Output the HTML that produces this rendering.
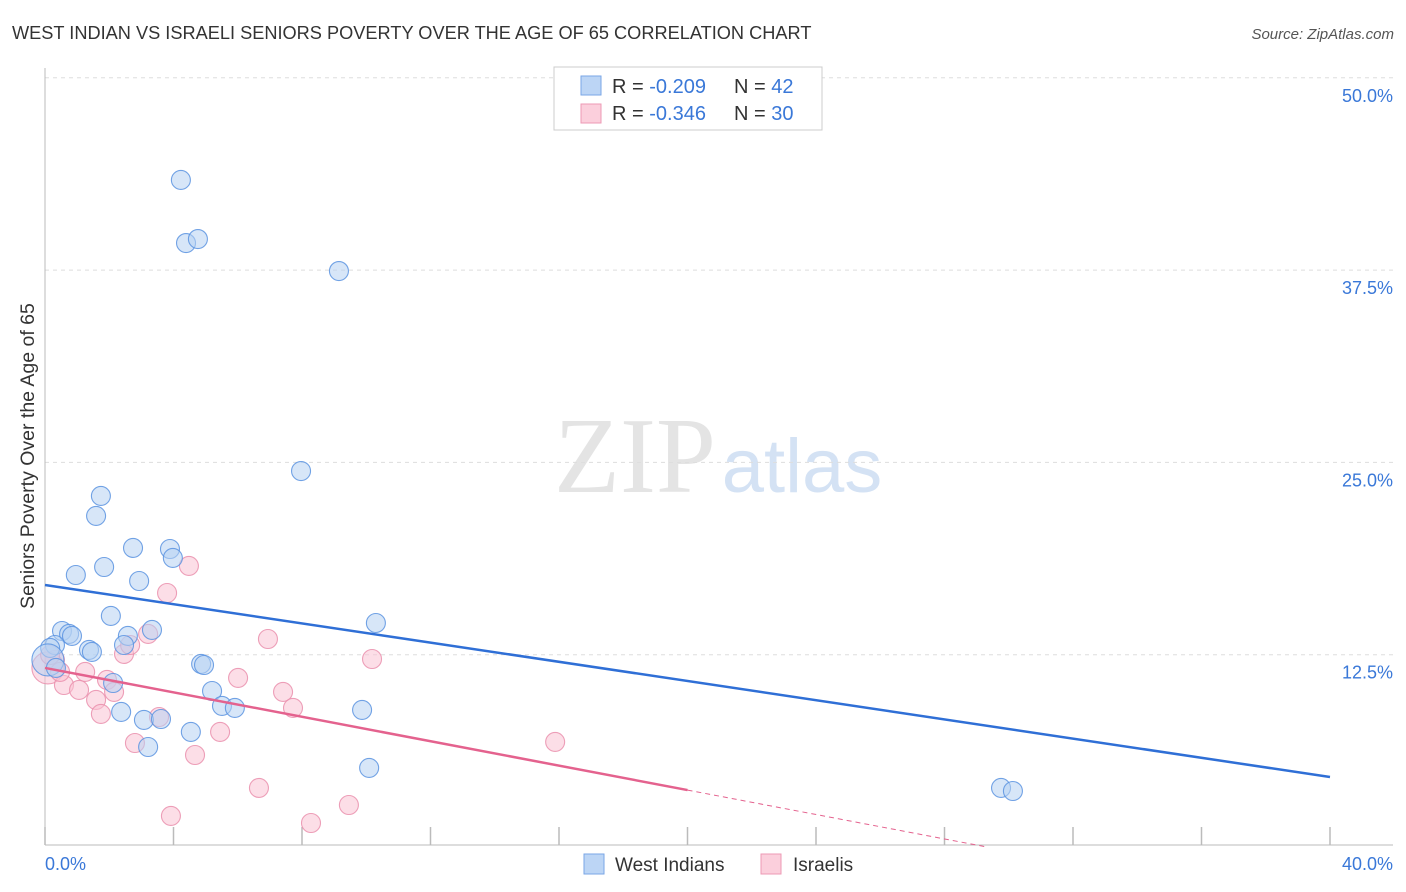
<!DOCTYPE html>
<html><head><meta charset="utf-8"><style>
body{margin:0;background:#fff;font-family:"Liberation Sans",sans-serif}
svg{display:block}
</style></head><body>
<svg id="chart" width="1406" height="892">
<text x="12" y="39" font-size="18.2" fill="#333">WEST INDIAN VS ISRAELI SENIORS POVERTY OVER THE AGE OF 65 CORRELATION CHART</text>
<text x="1394" y="39" font-size="15" fill="#555" font-style="italic" text-anchor="end">Source: ZipAtlas.com</text>
<text x="635" y="492" font-size="108" fill="#e4e4e4" font-family="Liberation Serif,serif" text-anchor="middle">ZIP</text>
<text x="802" y="492" font-size="76" fill="#d4e2f4" text-anchor="middle">atlas</text>
<text transform="translate(34,456) rotate(-90)" font-size="19.5" fill="#333" text-anchor="middle">Seniors Poverty Over the Age of 65</text>
<g id="grid"></g><g id="marks"></g>
<g>
<rect x="554" y="67" width="268" height="63" fill="#fff" stroke="#ccc"/>
<rect x="581" y="76" width="20" height="19" fill="#bcd5f5" stroke="#7aa6e6"/>
<rect x="581" y="104" width="20" height="19" fill="#fbcfdc" stroke="#ec9ab4"/>
<text x="612" y="93" font-size="20" fill="#333">R = <tspan fill="#3a78d8">-0.209</tspan><tspan x="734">N = </tspan><tspan fill="#3a78d8">42</tspan></text>
<text x="612" y="120" font-size="20" fill="#333">R = <tspan fill="#3a78d8">-0.346</tspan><tspan x="734">N = </tspan><tspan fill="#3a78d8">30</tspan></text>
</g>
<g>
<rect x="584" y="854" width="20" height="20" fill="#bcd5f5" stroke="#7aa6e6"/>
<text x="615" y="871" font-size="19" fill="#333">West Indians</text>
<rect x="761" y="854" width="20" height="20" fill="#fbcfdc" stroke="#ec9ab4"/>
<text x="793" y="871" font-size="19" fill="#333">Israelis</text>
</g>
</svg>
<script>
const yTicks=[12.5,25,37.5,50];
const yTickLabels=["12.5%","25.0%","37.5%","50.0%"];
const xTicks=[0,4,8,12,16,20,24,28,32,36,40];
const blueX=[4.23,4.39,4.76,9.15,7.97,1.74,1.59,2.74,3.89,3.98,0.96,1.84,2.93,2.05,10.30,0.53,0.75,0.84,3.33,2.58,1.37,1.46,0.31,0.16,2.46,4.86,4.95,2.12,5.20,5.51,5.91,2.37,9.87,3.08,3.61,4.54,3.21,10.09,29.76,30.13,0.09,0.34];
const blueY=[43.36,39.26,39.52,37.44,24.44,22.82,21.52,19.44,19.37,18.79,17.68,18.2,17.29,15.02,14.56,14.04,13.85,13.72,14.11,13.72,12.81,12.68,13.13,12.94,13.13,11.90,11.83,10.66,10.14,9.17,9.04,8.78,8.91,8.26,8.32,7.48,6.50,5.14,3.84,3.64,12.16,11.64];
const pinkX=[4.48,3.80,6.94,3.21,10.18,2.46,2.65,6.01,7.41,7.72,0.31,0.09,1.25,0.59,1.06,1.93,2.15,1.59,1.74,3.55,5.45,2.80,4.67,6.66,9.46,3.92,8.28,15.88,0.16,0.47];
const pinkY=[18.27,16.51,13.52,13.85,12.22,12.55,13.13,10.99,10.08,9.04,12.16,11.64,11.38,10.53,10.21,10.86,10.08,9.56,8.65,8.45,7.48,6.76,5.98,3.84,2.73,2.02,1.56,6.83,12.48,11.38];
const blueTrend=[17.03,-0.312];
const pinkTrend=[11.64,-0.397];
const pinkSolidEnd=20;

const X=v=>45+v/40*1285, Y=v=>847-v/12.5*192.3;
const NS="http://www.w3.org/2000/svg";
function mk(t,a,p){const e=document.createElementNS(NS,t);for(const k in a)e.setAttribute(k,a[k]);p.appendChild(e);return e;}
const grid=document.getElementById('grid'), marks=document.getElementById('marks');
yTicks.forEach((t,i)=>{
 const g=mk('line',{x1:45,x2:1393,y1:Y(t),y2:Y(t),stroke:'#ddd','stroke-dasharray':'4,4'},grid);
 
 
 const l=mk('text',{x:1393,y:Y(t)+24,'font-size':18,fill:'#3a78d8','text-anchor':'end'},grid);
 l.textContent=yTickLabels[i];
 
 
});
xTicks.forEach(t=>{
 const k=mk('line',{x1:X(t),x2:X(t),y1:827,y2:845,stroke:'#bbb','stroke-width':1.5},grid);
 
 
});
let a=mk('line',{x1:45,x2:45,y1:68,y2:845,stroke:'#bbb'},grid);


a=mk('line',{x1:45,x2:1393,y1:845,y2:845,stroke:'#bbb'},grid);


[[0,"0.0%",'start',45],[40,"40.0%",'end',1393]].forEach(d=>{
 const l=mk('text',{x:d[3],y:870,'font-size':18,fill:'#3a78d8','text-anchor':d[2]},grid);
 l.textContent=d[1];
 
 
});
function pts(xs,ys,fill,stroke,name,bigIdx){
 xs.forEach((x,i)=>{
  const c=mk('circle',{cx:X(x),cy:Y(ys[i]),r:i===bigIdx?16:9.5,fill:fill,'fill-opacity':0.55,stroke:stroke,'stroke-width':1.1,'stroke-opacity':0.85},marks);
  
  
 });
}
pts(pinkX,pinkY,'#f9c3d3','#ea8fad','israelis-point',11);
pts(blueX,blueY,'#b7d1f3','#5b93e0','west-indians-point',40);
let t=mk('line',{x1:X(0),y1:Y(blueTrend[0]),x2:X(40),y2:Y(blueTrend[0]+blueTrend[1]*40),stroke:'#2f6fd6','stroke-width':2.5},marks);


t=mk('line',{x1:X(0),y1:Y(pinkTrend[0]),x2:X(pinkSolidEnd),y2:Y(pinkTrend[0]+pinkTrend[1]*pinkSolidEnd),stroke:'#e4628e','stroke-width':2.5},marks);


t=mk('line',{x1:X(pinkSolidEnd),y1:Y(pinkTrend[0]+pinkTrend[1]*pinkSolidEnd),x2:X(29.3),y2:Y(pinkTrend[0]+pinkTrend[1]*29.3),stroke:'#e4628e','stroke-width':1,'stroke-dasharray':'5,4'},marks);


</script>
</body></html>
